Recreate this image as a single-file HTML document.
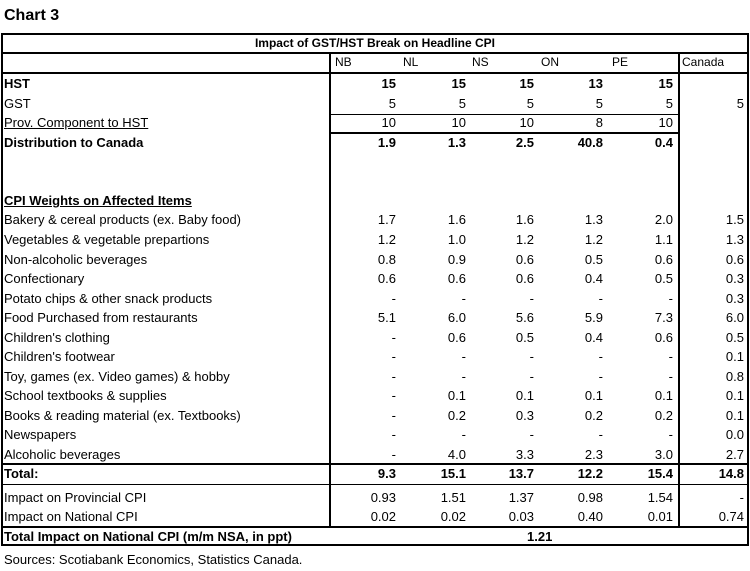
<!DOCTYPE html>
<html><head><meta charset="utf-8">
<style>
body{margin:0;background:#fff;width:750px;height:571px;overflow:hidden;position:relative;font-family:"Liberation Sans",sans-serif;font-size:13px;color:#000}
.t{position:absolute;white-space:nowrap;line-height:15px}
.r{text-align:right}
.b{font-weight:bold}
.u{text-decoration:underline}
.hl{position:absolute;background:#000}
</style></head><body>
<div class="t b" style="left:4px;top:6px;font-size:16px;line-height:19px">Chart 3</div>
<div id="tbl"></div>
<div class="t" style="left:4px;top:552px">Sources: Scotiabank Economics, Statistics Canada.</div>
<script>
const columns=["NB","NL","NS","ON","PE","Canada"];
const rowLabels=["HST","GST","Prov. Component to HST","Distribution to Canada","CPI Weights on Affected Items","Bakery & cereal products (ex. Baby food)","Vegetables & vegetable prepartions","Non-alcoholic beverages","Confectionary","Potato chips & other snack products","Food Purchased from restaurants","Children's clothing","Children's footwear","Toy, games (ex. Video games) & hobby","School textbooks & supplies","Books & reading material (ex. Textbooks)","Newspapers","Alcoholic beverages","Total:","Impact on Provincial CPI","Impact on National CPI"];
const rowValues=[
["15","15","15","13","15",""],
["5","5","5","5","5","5"],
["10","10","10","8","10",""],
["1.9","1.3","2.5","40.8","0.4",""],
["","","","","",""],
["1.7","1.6","1.6","1.3","2.0","1.5"],
["1.2","1.0","1.2","1.2","1.1","1.3"],
["0.8","0.9","0.6","0.5","0.6","0.6"],
["0.6","0.6","0.6","0.4","0.5","0.3"],
["-","-","-","-","-","0.3"],
["5.1","6.0","5.6","5.9","7.3","6.0"],
["-","0.6","0.5","0.4","0.6","0.5"],
["-","-","-","-","-","0.1"],
["-","-","-","-","-","0.8"],
["-","0.1","0.1","0.1","0.1","0.1"],
["-","0.2","0.3","0.2","0.2","0.1"],
["-","-","-","-","-","0.0"],
["-","4.0","3.3","2.3","3.0","2.7"],
["9.3","15.1","13.7","12.2","15.4","14.8"],
["0.93","1.51","1.37","0.98","1.54","-"],
["0.02","0.02","0.03","0.40","0.01","0.74"]];
const totalImpactLabel="Total Impact on National CPI (m/m NSA, in ppt)";
const totalImpactValue="1.21";
const rowY=[76,96,115,135,0,193,212,232,252,271,291,310,330,349,369,388,408,427,447,466,490,509];
const boldRows=[0,3,4,18];
const tbl=document.getElementById('tbl');
function txt(s,x,y,cls,w){const d=document.createElement('div');d.className='t '+cls;d.textContent=s;d.style.left=x+'px';d.style.top=y+'px';if(w)d.style.width=w+'px';tbl.appendChild(d);return d;}
function line(x,y,w,h){const d=document.createElement('div');d.className='hl';d.style.left=x+'px';d.style.top=y+'px';d.style.width=w+'px';d.style.height=h+'px';


tbl.appendChild(d);}
line(1,33,748,2);line(1,544,748,2);line(1,33,2,513);line(747,33,2,513);
line(1,52,748,2);line(1,72,748,2);line(331,114,348,1);line(331,132,348,2);
line(1,463,748,2);line(1,484,748,1);line(1,526,748,2);
line(329,53,2,474);line(678,53,2,474);
let el=txt("Impact of GST/HST Break on Headline CPI",3,36,'b',744);el.style.textAlign='center';el.style.fontSize='12px';


const colRight=[396,466,534,603,673,744];
const headX=[335,403,472,541,612,682];
columns.forEach((c,i)=>{const h=txt(c,headX[i],55,'');h.style.fontSize='12px';

});
const rowIdx=[0,1,2,3,5,6,7,8,9,10,11,12,13,14,15,16,17,18,19,20,21];
rowLabels.forEach((lab,i)=>{const y=rowY[rowIdx[i]];const bold=boldRows.includes(i);
let cls=(bold?'b':'')+((i==2||i==4)?' u':'');
const l=txt(lab,4,y,cls);


rowValues[i].forEach((v,j)=>{if(!v)return;const c=txt(v,colRight[j]-60,y,'r'+(bold?' b':''),60);

});});
el=txt(totalImpactLabel,4,529,'b');


el=txt(totalImpactValue,527,529,'b');


</script>
</body></html>
